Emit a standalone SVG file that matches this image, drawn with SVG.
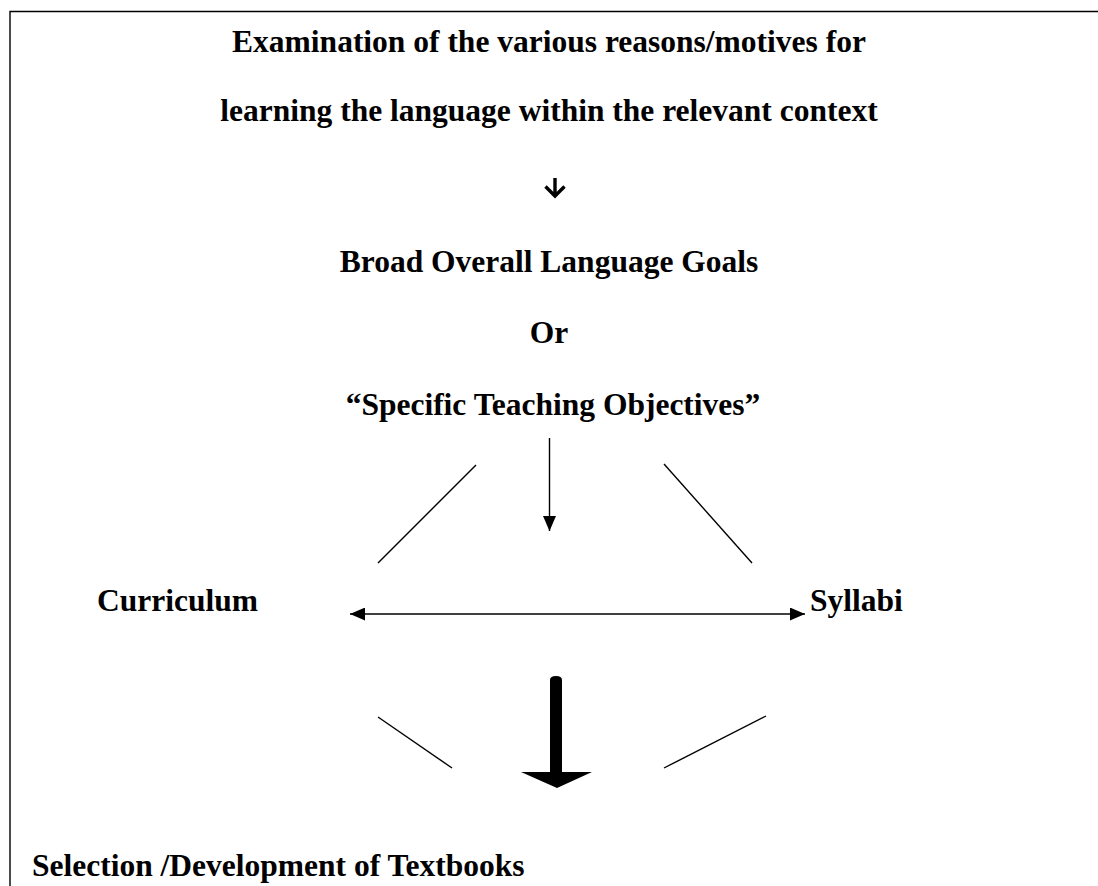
<svg xmlns="http://www.w3.org/2000/svg" width="1098" height="886" viewBox="0 0 1098 886">
<style>
.t{font-family:"Liberation Serif","Times New Roman",serif;font-weight:bold;font-size:31.5px;fill:#000}
.c{text-anchor:middle}
.ln{stroke:#000;stroke-width:1.4;fill:none}
</style>
<defs>
<marker id="ah" viewBox="0 0 15 13" refX="15" refY="6.5" markerWidth="15" markerHeight="13" markerUnits="userSpaceOnUse" orient="auto-start-reverse">
<path d="M0,0 L15,6.5 L0,13 Z" fill="#000"/>
</marker>
</defs>
<rect width="1098" height="886" fill="#fff"/>
<path d="M10,900 L10,11.5 L1110,11.5" class="ln" stroke-width="2.2"/>
<g id="n-exam">
<text class="t c" x="549" y="52">Examination of the various reasons/motives for</text>
<text class="t c" x="549" y="121">learning the language within the relevant context</text>
</g>
<g id="n-goals">
<text class="t c" x="549" y="272">Broad Overall Language Goals</text>
<text class="t c" x="549" y="343">Or</text>
<text class="t c" x="553" y="415">“Specific Teaching Objectives”</text>
</g>
<g id="n-curriculum"><text class="t" x="97" y="611">Curriculum</text></g>
<g id="n-syllabi"><text class="t" x="810" y="611">Syllabi</text></g>
<g id="n-textbooks"><text class="t" x="32" y="876">Selection /Development of Textbooks</text></g>
<g id="connectors">
<path d="M555,178 L555,195 M545.5,186.5 L555,196 L564.5,186.5" fill="none" stroke="#000" stroke-width="3.4" stroke-linejoin="miter"/>
<line class="ln" x1="549.5" y1="438" x2="549.5" y2="531" marker-end="url(#ah)"/>
<line class="ln" x1="350" y1="614" x2="805" y2="614" marker-start="url(#ah)" marker-end="url(#ah)"/>
<line class="ln" x1="476" y1="465" x2="378" y2="563"/>
<line class="ln" x1="664" y1="464" x2="752" y2="563"/>
<line class="ln" x1="378" y1="717" x2="452" y2="768"/>
<line class="ln" x1="766" y1="716" x2="664" y2="768"/>
<path d="M550,680 Q550,676 556,676 Q562,676 562,680 L562,772 L592,772 L557,788 L521,772 L550,772 Z" fill="#000"/>
</g>
</svg>
